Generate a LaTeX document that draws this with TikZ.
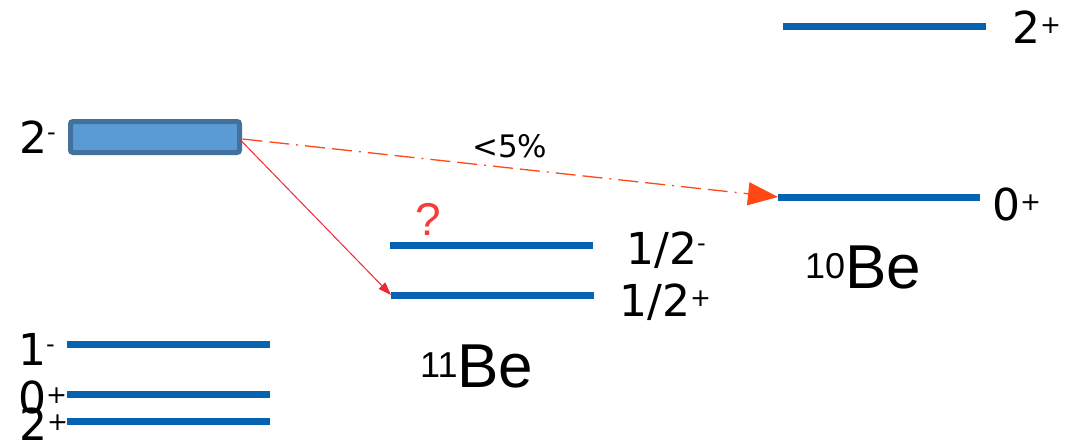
\documentclass[tikz,border=0pt]{standalone}
\usepackage{fontspec}
\setmainfont{DejaVu Sans}
\newfontfamily\befont{Liberation Sans}
\usetikzlibrary{arrows.meta}
\definecolor{lvl}{RGB}{5,99,178}
\definecolor{boxfill}{RGB}{91,155,213}
\definecolor{boxdraw}{RGB}{65,113,156}
\definecolor{redarrow}{RGB}{238,40,50}
\definecolor{qred}{RGB}{245,60,60}
\definecolor{orarrow}{RGB}{255,72,20}
\newcommand{\supp}{\raisebox{10pt}{\fontsize{25}{25}\selectfont +}}
\newcommand{\supm}{\raisebox{13pt}{\fontsize{24}{24}\selectfont -}}
\tikzset{
  lbl/.style={anchor=base west, inner sep=0pt, font=\fontsize{44}{44}\selectfont},
  belbl/.style={anchor=base west, inner sep=0pt, font=\befont\fontsize{62}{62}\selectfont},
  level/.style={draw=lvl, line width=7pt},
}
\begin{document}
\begin{tikzpicture}[x=1pt,y=-1pt]
\useasboundingbox (0,0) rectangle (1073,440);
% 2- state box
\node[draw=boxdraw, fill=boxfill, line width=5pt, rounded corners=2.5pt,
      minimum width=169pt, minimum height=31pt, inner sep=0pt, outer sep=0pt] (box) at (155,137) {};
\node[lbl] (l2m) at (19,153) {2\supm};
% left nucleus levels
\coordinate (a1) at (67,344); \coordinate (a1e) at (270,344);
\coordinate (a2) at (67,394); \coordinate (a2e) at (270,394);
\coordinate (a3) at (67,421); \coordinate (a3e) at (270,421);
\draw[level] (a1) -- (a1e);
\draw[level] (a2) -- (a2e);
\draw[level] (a3) -- (a3e);
\node[lbl] (l1m) at (18,365) {1\supm};
\node[lbl] (l0p) at (18,413) {0\supp};
\node[lbl] (l2p) at (19,440) {2\supp};
% 11Be levels
\coordinate (b1) at (390,245); \coordinate (b1e) at (593,245);
\coordinate (b2) at (391,295); \coordinate (b2e) at (594,295);
\draw[level] (b1) -- (b1e);
\draw[level] (b2) -- (b2e);
\node[lbl] (lhm) at (626,264) {1/2\supm};
\node[lbl] (lhp) at (619,316) {1/2\supp};
\node[anchor=base west, inner sep=0pt, text=qred, font=\befont\fontsize{46}{46}\selectfont] (q) at (415,235) {?};
\node[belbl] (be11) at (420,387) {\raisebox{10pt}{\fontsize{36}{36}\selectfont 11}Be};
% 10Be levels
\coordinate (c1) at (778,197); \coordinate (c1e) at (980,197);
\coordinate (c2) at (783,26); \coordinate (c2e) at (986,26);
\draw[level] (c1) -- (c1e);
\draw[level] (c2) -- (c2e);
\node[lbl] (c0p) at (992,220) {0\supp};
\node[lbl] (c2p) at (1012,43) {2\supp};
\node[belbl] (be10) at (805,288) {\raisebox{10pt}{\fontsize{36}{36}\selectfont 10}Be};
% transitions
\draw[redarrow, line width=1pt, -{Triangle[length=13pt,width=9pt]}] ([yshift=-2pt]box.east) -- (b2);
\draw[orarrow, line width=1.3pt, dash pattern=on 20pt off 7pt on 20pt off 7pt on 2pt off 7pt,
      -{Triangle[length=30pt,width=23pt]}] ([xshift=3pt,yshift=-2pt]box.east) -- (c1);
\node[anchor=base west, inner sep=0pt, font=\fontsize{31}{31}\selectfont] (pct) at (472,157) {<5\%};
\end{tikzpicture}
\end{document}
